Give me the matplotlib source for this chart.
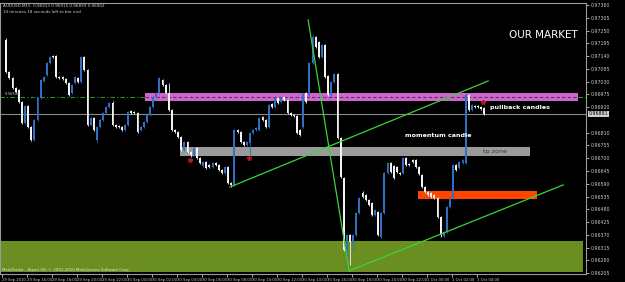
import matplotlib
matplotlib.use("Agg")
import matplotlib.pyplot as plt
from matplotlib.patches import Rectangle
from matplotlib import font_manager

# ---- data: AUDUSD M15 candles, prices in points (1e-5) ----
opens = [97210, 97072, 97046, 97003, 96994, 96942, 96852, 96925, 96835, 96779,
         96865, 96960, 97033, 97059, 97110, 97141, 97141, 97050, 97050, 97042,
         97024, 96981, 97024, 97046, 97029, 97136, 97080, 96843, 96873, 96779,
         96835, 96865, 96895, 96921, 96938, 96843, 96839, 96835, 96822, 96843,
         96904, 96899, 96895, 96822, 96835, 96856, 96886, 96921, 96964, 96981,
         97037, 97016, 96981, 96908, 96822, 96813, 96792, 96736, 96770, 96727,
         96714, 96744, 96701, 96667, 96684, 96671, 96662, 96679, 96671, 96649,
         96636, 96662, 96593, 96585, 96822, 96813, 96770, 96757, 96766, 96809,
         96822, 96822, 96878, 96865, 96835, 96934, 96921, 96960, 96942, 96964,
         96951, 96895, 96886, 96882, 96822, 96835, 96981, 96973, 97110, 97223,
         97201, 97136, 97188, 97054, 96973, 97029, 97063, 96787, 96615, 96304,
         96369, 96339, 96369, 96464, 96550, 96542, 96520, 96507, 96455, 96468,
         96361, 96464, 96636, 96679, 96667, 96662, 96636, 96636, 96701, 96675,
         96692, 96692, 96662, 96628, 96576, 96554, 96550, 96542, 96529, 96447,
         96365, 96382, 96490, 96529, 96671, 96658, 96679, 96679, 96973, 96908,
         96925, 96925, 96921, 96917]
closes = [97072, 97046, 97003, 96985, 96942, 96852, 96925, 96835, 96779, 96865,
          96960, 97037, 97050, 97110, 97136, 97136, 97050, 97046, 97042, 97024,
          96973, 97016, 97050, 97029, 97136, 97080, 96843, 96873, 96822, 96835,
          96865, 96895, 96921, 96938, 96843, 96835, 96835, 96822, 96843, 96899,
          96895, 96895, 96813, 96835, 96856, 96886, 96921, 96964, 96981, 97046,
          97016, 96981, 96908, 96822, 96813, 96792, 96736, 96770, 96727, 96714,
          96744, 96701, 96679, 96684, 96658, 96662, 96679, 96671, 96649, 96636,
          96662, 96593, 96585, 96822, 96813, 96770, 96757, 96770, 96809, 96822,
          96830, 96873, 96865, 96835, 96929, 96921, 96960, 96938, 96964, 96951,
          96895, 96886, 96882, 96809, 96800, 96981, 96942, 97110, 97223, 97179,
          97136, 97188, 97050, 96973, 97029, 97063, 96787, 96619, 96304, 96369,
          96339, 96369, 96464, 96529, 96533, 96520, 96498, 96455, 96477, 96369,
          96464, 96636, 96679, 96641, 96615, 96641, 96632, 96701, 96671, 96671,
          96684, 96662, 96632, 96576, 96554, 96542, 96533, 96529, 96447, 96369,
          96382, 96490, 96529, 96671, 96649, 96684, 96692, 96973, 96908, 96929,
          96921, 96921, 96912, 96891]
highs = [97218, 97076, 97050, 97007, 96998, 96947, 96929, 96929, 96839, 96869,
         96964, 97042, 97054, 97115, 97141, 97145, 97145, 97054, 97054, 97046,
         97029, 97020, 97054, 97050, 97141, 97141, 97084, 96878, 96878, 96839,
         96869, 96899, 96925, 96942, 96947, 96847, 96843, 96839, 96847, 96904,
         96908, 96904, 96899, 96839, 96860, 96891, 96925, 96968, 96985, 97050,
         97042, 97020, 97024, 96912, 96826, 96817, 96796, 96775, 96775, 96731,
         96749, 96749, 96705, 96688, 96688, 96675, 96684, 96684, 96675, 96653,
         96667, 96667, 96598, 96826, 96826, 96817, 96775, 96775, 96813, 96826,
         96835, 96878, 96882, 96869, 96934, 96938, 96964, 96964, 96968, 96968,
         96955, 96899, 96891, 96886, 96826, 96985, 96985, 97115, 97231, 97227,
         97205, 97192, 97192, 97059, 97033, 97067, 97067, 96792, 96619, 96373,
         96373, 96373, 96468, 96533, 96559, 96546, 96524, 96511, 96481, 96473,
         96468, 96641, 96684, 96684, 96671, 96667, 96641, 96705, 96705, 96679,
         96697, 96697, 96667, 96632, 96580, 96559, 96554, 96546, 96533, 96451,
         96386, 96494, 96533, 96675, 96675, 96688, 96697, 96981, 96977, 96934,
         96929, 96929, 96925, 96921]
lows = [97067, 97042, 96998, 96981, 96938, 96848, 96848, 96830, 96775, 96775,
        96860, 96956, 97029, 97054, 97106, 97132, 97046, 97042, 97037, 97020,
        96968, 96977, 97020, 97024, 97024, 97076, 96839, 96839, 96817, 96770,
        96830, 96860, 96891, 96917, 96839, 96830, 96830, 96817, 96817, 96839,
        96891, 96891, 96809, 96817, 96830, 96852, 96882, 96917, 96960, 96977,
        97011, 96977, 96904, 96817, 96809, 96787, 96731, 96731, 96722, 96705,
        96710, 96697, 96675, 96662, 96653, 96658, 96658, 96667, 96645, 96632,
        96632, 96589, 96576, 96580, 96809, 96766, 96753, 96753, 96714, 96805,
        96817, 96817, 96860, 96830, 96830, 96917, 96917, 96934, 96938, 96947,
        96891, 96882, 96878, 96805, 96796, 96830, 96938, 96968, 97106, 97175,
        97132, 97132, 97046, 96968, 96968, 97024, 96783, 96615, 96300, 96227,
        96240, 96304, 96365, 96460, 96529, 96516, 96494, 96451, 96451, 96365,
        96357, 96460, 96632, 96636, 96611, 96636, 96628, 96632, 96667, 96667,
        96679, 96658, 96628, 96572, 96550, 96537, 96529, 96524, 96443, 96361,
        96361, 96378, 96486, 96524, 96645, 96653, 96675, 96675, 96904, 96904,
        96917, 96917, 96908, 96886]
first_index = 1

price_ticks = [0.97360, 0.97305, 0.97250, 0.97195, 0.97140, 0.97085, 0.97030,
               0.96975, 0.96920, 0.96810, 0.96755, 0.96700, 0.96645,
               0.96590, 0.96535, 0.96480, 0.96425, 0.96370, 0.96315, 0.96260,
               0.96205]
time_labels = ["29 Sep 2010", "29 Sep 16:00", "29 Sep 18:00", "29 Sep 20:00",
               "29 Sep 22:00", "30 Sep 00:00", "30 Sep 02:00", "30 Sep 04:00",
               "30 Sep 06:00", "30 Sep 08:00", "30 Sep 10:00", "30 Sep 12:00",
               "30 Sep 14:00", "30 Sep 16:00", "30 Sep 18:00", "30 Sep 20:00",
               "30 Sep 22:00", "1 Oct 00:00", "1 Oct 02:00", "1 Oct 04:00"]
bars_per_label = 8

bid_price = 0.96891
level_price = 0.96964
# zones: (start bar, end bar, top price, bottom price)
purple_zone = (45.4, 184.0, 0.96981, 0.96947)
tp_zone = (56.6, 168.6, 0.96748, 0.96710)
orange_zone = (132.8, 170.8, 0.96559, 0.96524)
green_zone = (-1.0, 185.6, 0.96343, 0.96210)
# trendlines: (bar, price) pairs
trend_up = [(72.6, 0.96576), (155.2, 0.97033)]
trend_down = [(97.6, 0.97296), (110.7, 0.96214)]
trend_low = [(110.7, 0.96214), (179.2, 0.96585)]
arrows = [(59.8, 0.96692), (78.7, 0.96701), (153.6, 0.96942)]

# small-text font (narrow if available)
names = {f.name for f in font_manager.fontManager.ttflist}
small_family = "Liberation Sans Narrow" if "Liberation Sans Narrow" in names else "DejaVu Sans"
small_size = 3.3 if small_family == "Liberation Sans Narrow" else 2.7

# ---- figure ----
W, H = 625, 282
fig = plt.figure(figsize=(W / 100, H / 100), dpi=100, facecolor="black")
ax = fig.add_axes([0, 8 / H, 586 / W, 271 / H])
ax.set_facecolor("black")
ax.set_xlim(-1, 186.5)
ax.set_ylim(0.96201, 0.97369)

def zone(z, color, zo=1):
    x0, x1, top, bot = z
    ax.add_patch(Rectangle((x0, bot), x1 - x0, top - bot, facecolor=color,
                           edgecolor="none", zorder=zo))

zone(green_zone, "#6b8e23")
zone(purple_zone, "#cc66cc")
zone(tp_zone, "#9a9a9a")
zone(orange_zone, "#ff4500")

ax.plot([-1, purple_zone[0]], [level_price, level_price], color="#2f8f2f",
        lw=0.8, ls=(0, (4, 2, 1, 2)), zorder=2)
ax.plot([purple_zone[1], 186.5], [level_price, level_price], color="#2f8f2f",
        lw=0.8, ls=(0, (4, 2, 1, 2)), zorder=2)
ax.plot([purple_zone[0], purple_zone[1]], [level_price, level_price],
        color="#6a2a6a", lw=0.8, ls=(0, (3, 2)), zorder=2)

ax.axhline(bid_price, color="#8a8a8a", lw=0.8, zorder=2)

bull_c = "#2f6fc4"
bear_c = "#f2f2f2"
for k in range(len(opens)):
    i = first_index + k
    o, c = opens[k] / 1e5, closes[k] / 1e5
    h, l = highs[k] / 1e5, lows[k] / 1e5
    col = bull_c if c >= o else bear_c
    ax.vlines(i, l, h, color=col, lw=0.6, zorder=3)
    bot = min(o, c)
    hgt = max(abs(c - o), 0.00002)
    ax.bar(i, hgt, bottom=bot, width=0.6, color=col, edgecolor="none", zorder=3)

for tl in (trend_up, trend_down, trend_low):
    ax.plot([tl[0][0], tl[1][0]], [tl[0][1], tl[1][1]], color="#3ad43a",
            lw=0.9, zorder=4)

for (xa, ya) in arrows:
    ax.plot(xa, ya, marker="*", color="#b01818", ms=3.5, zorder=5, lw=0)

ax.text(162, 0.97230, "OUR MARKET", color="white", fontsize=7.5,
        va="center", ha="left", zorder=6)
ax.text(155.8, 0.96917, "pullback candles", color="white", fontsize=4.6,
        va="center", ha="left", zorder=6, fontweight="bold")
ax.text(128.5, 0.96796, "momentum candle", color="white", fontsize=4.6,
        va="center", ha="left", zorder=6, fontweight="bold")
ax.text(153.5, 0.96729, "tp zone", color="#3a3a3a", fontsize=4.6,
        va="center", ha="left", zorder=6)
ax.text(0.5, 0.96968, "0.96964", color="#c8c8c8", fontsize=2.6, va="bottom",
        ha="left", zorder=6)

fig.text(3 / W, 1 - 6 / H, "AUDUSD,M15  0.96913 0.96915 0.96893 0.96902",
         color="#d0d0d0", fontsize=3.0, va="center", ha="left")
fig.text(3 / W, 1 - 12 / H, "14 minutes 18 seconds left to bar end",
         color="#d0d0d0", fontsize=3.0, va="center", ha="left")
fig.text(2 / W, 1 - 270 / H,
         "MetaTrader - Alpari UK, \u00a9 2001-2010 MetaQuotes Software Corp.",
         color="#e0e0e0", fontsize=2.8, va="center", ha="left")

for s in ax.spines.values():
    s.set_color("#9a9a9a")
    s.set_linewidth(0.8)
ax.yaxis.tick_right()
ax.set_yticks(price_ticks)
ax.set_yticklabels([f"{p:.5f}" for p in price_ticks])
ax.tick_params(axis="y", colors="#c8c8c8", labelsize=3.4, length=2,
               width=0.6, pad=1.5)
xt = [bars_per_label * k - 0.36 for k in range(len(time_labels))]
ax.set_xticks(xt)
ax.set_xticklabels(time_labels, ha="left", family=small_family,
                   fontsize=small_size)
ax.tick_params(axis="x", colors="#c8c8c8", length=2, width=0.6, pad=1.0)

ax.annotate(f"{bid_price:.5f}", xy=(1.0, bid_price), xycoords=("axes fraction", "data"),
            xytext=(2, 0), textcoords="offset points", va="center", ha="left",
            fontsize=3.4, color="black",
            bbox=dict(boxstyle="square,pad=0.15", fc="#d0d0d0", ec="none"),
            annotation_clip=False)

fig.savefig("out.png", dpi=100, facecolor="black")
